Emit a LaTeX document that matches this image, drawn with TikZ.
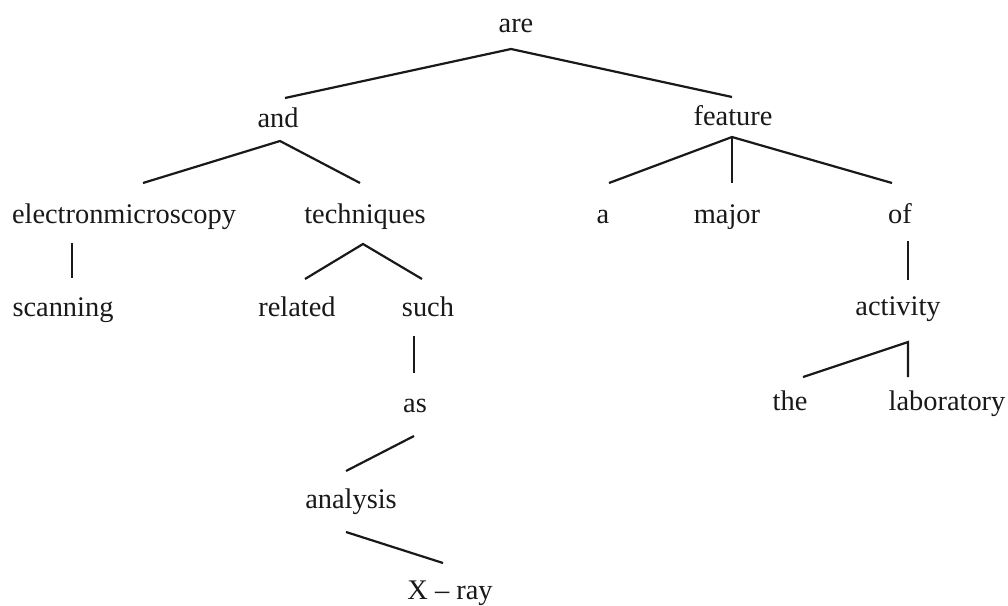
\documentclass[tikz,border=0pt]{standalone}
\usepackage{fontspec}
\setmainfont{Liberation Serif}
\begin{document}
\begin{tikzpicture}[x=1pt,y=-1pt,
  word/.style={anchor=base,inner sep=0pt,font=\fontsize{28.4}{34}\selectfont,text=black!90},
  branch/.style={draw=black!90,line width=2.2pt,line join=miter}]
\useasboundingbox[fill=white] (0,0) rectangle (1008,605);
% words
\node[word] (are) at (516,32) {are};
\node[word] (and) at (278,127) {and};
\node[word] (feature) at (733,125) {feature};
\node[word] (em) at (124,223) {electronmicroscopy};
\node[word] (tech) at (365,223) {techniques};
\node[word] (a) at (603,223) {a};
\node[word] (major) at (727,223) {major};
\node[word] (of) at (900,223) {of};
\node[word] (scan) at (63,316) {scanning};
\node[word] (rel) at (297,316) {related};
\node[word] (such) at (428,316) {such};
\node[word] (act) at (898,315) {activity};
\node[word] (as) at (415,412) {as};
\node[word] (the) at (790,410) {the};
\node[word] (lab) at (947,410) {laboratory};
\node[word] (anal) at (351,508) {analysis};
\node[word] (xray) at (450,599) {X – ray};
% branch points
\coordinate (areJ) at (511,49);
\coordinate (areL) at (285,98);
\coordinate (areR) at (732,97);
\coordinate (andJ) at (280,141);
\coordinate (andL) at (143,183);
\coordinate (andR) at (360,183);
\coordinate (feaJ) at (732,137);
\coordinate (feaL) at (609,183);
\coordinate (feaM) at (732,183);
\coordinate (feaR) at (892,183);
\coordinate (emT) at (72,243);
\coordinate (emB) at (72,278);
\coordinate (tecJ) at (363,244);
\coordinate (tecL) at (305,279);
\coordinate (tecR) at (422,279);
\coordinate (suT) at (414,336);
\coordinate (suB) at (414,373);
\coordinate (asT) at (414,436);
\coordinate (asB) at (346,471);
\coordinate (anT) at (346,532);
\coordinate (anB) at (443,563);
\coordinate (ofT) at (908,241);
\coordinate (ofB) at (908,280);
\coordinate (actJ) at (908,342);
\coordinate (actL) at (803,377);
\coordinate (actR) at (908,377);
% branches
\draw[branch] (areL) -- (areJ) -- (areR);
\draw[branch] (andL) -- (andJ) -- (andR);
\draw[branch] (feaL) -- (feaJ) -- (feaR);
\draw[branch] (feaJ) -- (feaM);
\draw[branch] (emT) -- (emB);
\draw[branch] (tecL) -- (tecJ) -- (tecR);
\draw[branch] (suT) -- (suB);
\draw[branch] (asT) -- (asB);
\draw[branch] (anT) -- (anB);
\draw[branch] (ofT) -- (ofB);
\draw[branch] (actL) -- (actJ) -- (actR);
\end{tikzpicture}
\end{document}
